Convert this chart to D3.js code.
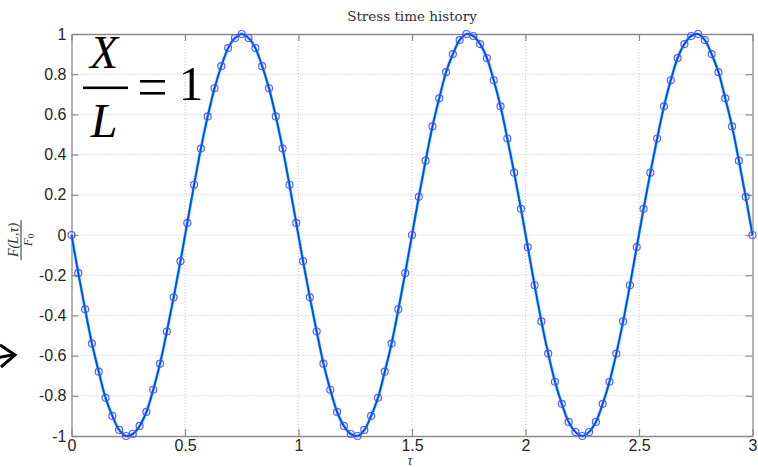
<!DOCTYPE html>
<html>
<head>
<meta charset="utf-8">
<script src="https://cdn.jsdelivr.net/npm/d3@7"></script>
<style>
  html, body { margin: 0; padding: 0; background: #fff; }
  svg { display: block; }
</style>
</head>
<body>
<svg id="chart" width="758" height="467"></svg>
<script>
// ---- data ----
const tauStep = 0.03;
const tau = d3.range(0, 101).map(k => +(k * tauStep).toFixed(2));
const stress = [
  0, -0.19, -0.37, -0.54, -0.68, -0.81, -0.90, -0.97, -1.00, -0.99,
  -0.95, -0.88, -0.77, -0.64, -0.48, -0.31, -0.13, 0.06, 0.25, 0.43,
  0.59, 0.73, 0.84, 0.93, 0.98, 1.00, 0.98, 0.93, 0.84, 0.73,
  0.59, 0.43, 0.25, 0.06, -0.13, -0.31, -0.48, -0.64, -0.77, -0.88,
  -0.95, -0.99, -1.00, -0.97, -0.90, -0.81, -0.68, -0.54, -0.37, -0.19,
  0, 0.19, 0.37, 0.54, 0.68, 0.81, 0.90, 0.97, 1.00, 0.99,
  0.95, 0.88, 0.77, 0.64, 0.48, 0.31, 0.13, -0.06, -0.25, -0.43,
  -0.59, -0.73, -0.84, -0.93, -0.98, -1.00, -0.98, -0.93, -0.84, -0.73,
  -0.59, -0.43, -0.25, -0.06, 0.13, 0.31, 0.48, 0.64, 0.77, 0.88,
  0.95, 0.99, 1.00, 0.97, 0.90, 0.81, 0.68, 0.54, 0.37, 0.19,
  0
];
const xTicks = [0, 0.5, 1, 1.5, 2, 2.5, 3];
const xTickLabels = ["0", "0.5", "1", "1.5", "2", "2.5", "3"];
const yTicks = [-1, -0.8, -0.6, -0.4, -0.2, 0, 0.2, 0.4, 0.6, 0.8, 1];
const yTickLabels = ["-1", "-0.8", "-0.6", "-0.4", "-0.2", "0", "0.2", "0.4", "0.6", "0.8", "1"];
const titleText = "Stress time history";

// ---- layout ----
const svg = d3.select("#chart");
const L = 71.5, R = 752.5, T = 34, B = 436;
const x = d3.scaleLinear().domain([0, 3]).range([L, R]);
const y = d3.scaleLinear().domain([-1, 1]).range([B, T]);
const axisColor = "#8a8a8a";
const textColor = "#262626";

// grid
const grid = svg.append("g");
grid.selectAll("line.vx").data(xTicks.slice(1, -1)).enter().append("line")
  .attr("x1", d => x(d)).attr("x2", d => x(d)).attr("y1", T).attr("y2", B)
  .attr("stroke", "#c4c4c4").attr("stroke-width", 1).attr("stroke-dasharray", "1,2");
grid.selectAll("line.hy").data(yTicks.slice(1, -1)).enter().append("line")
  .attr("x1", L).attr("x2", R).attr("y1", d => y(d)).attr("y2", d => y(d))
  .attr("stroke", "#c4c4c4").attr("stroke-width", 1).attr("stroke-dasharray", "1,2");

// axes (ticks inward)
const fmtX = (d, i) => xTickLabels[i];
const fmtY = (d, i) => yTickLabels[i];
function styleAxis(g) {
  g.select(".domain").attr("stroke", axisColor).attr("stroke-width", 1.3);
  g.selectAll(".tick line").attr("stroke", axisColor).attr("stroke-width", 1.2);
  g.selectAll(".tick text").attr("fill", textColor)
    .attr("font-family", "Liberation Sans, Arial, sans-serif").attr("font-size", 16);
}
const gx = svg.append("g").attr("transform", `translate(0,${B})`)
  .call(d3.axisBottom(x).tickValues(xTicks).tickFormat(fmtX).tickSizeInner(-7).tickSizeOuter(0).tickPadding(4));
styleAxis(gx);
const gxTop = svg.append("g").attr("transform", `translate(0,${T})`)
  .call(d3.axisTop(x).tickValues(xTicks).tickFormat("").tickSizeInner(-7).tickSizeOuter(0));
styleAxis(gxTop);
const gy = svg.append("g").attr("transform", `translate(${L},0)`)
  .call(d3.axisLeft(y).tickValues(yTicks).tickFormat(fmtY).tickSizeInner(-7).tickSizeOuter(0).tickPadding(5));
styleAxis(gy);
const gyR = svg.append("g").attr("transform", `translate(${R},0)`)
  .call(d3.axisRight(y).tickValues(yTicks).tickFormat("").tickSizeInner(-7).tickSizeOuter(0));
styleAxis(gyR);

// data lines
const pts = tau.map((t, i) => [t, stress[i]]);
const line = d3.line().x(d => x(d[0])).y(d => y(d[1])).curve(d3.curveCatmullRom);
svg.append("path").datum(pts).attr("d", line)
  .attr("fill", "none").attr("stroke", "#2ec8e8").attr("stroke-width", 2.8);
svg.append("path").datum(pts).attr("d", line)
  .attr("fill", "none").attr("stroke", "#0a3cff").attr("stroke-width", 1.6);
svg.append("g").selectAll("circle").data(pts).enter().append("circle")
  .attr("cx", d => x(d[0])).attr("cy", d => y(d[1])).attr("r", 3.5)
  .attr("fill", "none").attr("stroke", "#4a4aff").attr("stroke-width", 1.2).attr("opacity", 0.9);

// title and labels
svg.append("text").attr("x", 412).attr("y", 21).attr("text-anchor", "middle")
  .attr("font-family", "DejaVu Serif, Liberation Serif, serif").attr("font-size", 13.5)
  .attr("fill", "#333").text(titleText);
svg.append("text").attr("x", 410).attr("y", 465).attr("text-anchor", "middle")
  .attr("font-family", "Liberation Serif, serif").attr("font-style", "italic")
  .attr("font-size", 14).attr("fill", "#333").text("τ");

// y label fraction F(L,τ)/F0 rotated
const yl = svg.append("g").attr("transform", "translate(21,240) rotate(-90)");
yl.append("text").attr("x", 0).attr("y", -3.5).attr("text-anchor", "middle")
  .attr("font-family", "Liberation Serif, serif").attr("font-style", "italic")
  .attr("font-size", 14).attr("fill", "#333").text("F(L,τ)");
yl.append("line").attr("x1", -20).attr("x2", 20).attr("y1", 0).attr("y2", 0)
  .attr("stroke", "#333").attr("stroke-width", 1);
yl.append("text").attr("x", 0).attr("y", 11).attr("text-anchor", "middle")
  .attr("font-family", "Liberation Serif, serif").attr("font-style", "italic")
  .attr("font-size", 13).attr("fill", "#333")
  .html('F<tspan font-style="normal" font-size="9" dy="2">0</tspan>');

// big X/L = 1 annotation
const ann = svg.append("g").attr("font-family", "Liberation Serif, Times New Roman, serif").attr("fill", "#000");
ann.append("text").attr("x", 104).attr("y", 68).attr("text-anchor", "middle")
  .attr("font-style", "italic").attr("font-size", 46).text("X");
ann.append("rect").attr("x", 83).attr("y", 86.5).attr("width", 45).attr("height", 2.6).attr("fill", "#000");
ann.append("text").attr("x", 104).attr("y", 137).attr("text-anchor", "middle")
  .attr("font-style", "italic").attr("font-size", 48).text("L");
ann.append("rect").attr("x", 140).attr("y", 80).attr("width", 25).attr("height", 2.6).attr("fill", "#000");
ann.append("rect").attr("x", 140).attr("y", 92).attr("width", 25).attr("height", 2.6).attr("fill", "#000");
ann.append("text").attr("x", 191).attr("y", 100).attr("text-anchor", "middle")
  .attr("font-size", 49).text("1");

// arrow at the left edge
const ar = svg.append("g").attr("stroke", "#000").attr("stroke-width", 3).attr("fill", "none")
  .attr("stroke-linecap", "butt").attr("stroke-linejoin", "miter");
ar.append("path").attr("d", "M 0 345 L 15 355 L 1 367");
ar.append("path").attr("d", "M -4 358 L 12 355");
</script>
</body>
</html>
